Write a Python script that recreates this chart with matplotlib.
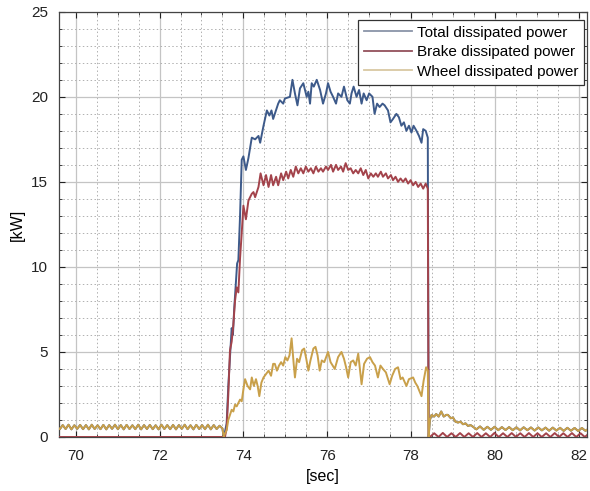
import numpy as np
import matplotlib
matplotlib.use("Agg")
import matplotlib.pyplot as plt
from matplotlib.ticker import MultipleLocator
from matplotlib.lines import Line2D

plt.rcParams['font.family'] = ['Liberation Sans', 'DejaVu Sans']

# ---------------- data ----------------
# idle oscillation before braking (wheel == total, brake == 0)
base_pre = [0.62, 0.46, 0.70, 0.47, 0.72, 0.45, 0.69, 0.48, 0.71, 0.46,
            0.70, 0.45, 0.72, 0.47, 0.69, 0.46, 0.71, 0.45, 0.70, 0.48,
            0.72, 0.46, 0.70, 0.45, 0.71, 0.47, 0.69, 0.46, 0.72, 0.45,
            0.70, 0.47, 0.71, 0.46, 0.69, 0.45, 0.72, 0.47, 0.70, 0.46,
            0.71, 0.45, 0.70, 0.48, 0.72, 0.46, 0.69, 0.45, 0.71, 0.47,
            0.70, 0.46, 0.72, 0.45, 0.70, 0.47, 0.66, 0.50]
pre_start, pre_end = 69.55, 73.50

# braking phase: total dissipated power
total_t = [73.53, 73.56, 73.60, 73.64, 73.68, 73.72, 73.75, 73.78, 73.82, 73.85,
           73.88, 73.92, 73.96, 74.00, 74.06, 74.12, 74.20, 74.28, 74.36, 74.40,
           74.48, 74.56, 74.62, 74.67, 74.71, 74.83, 74.87, 74.95, 74.99, 75.11,
           75.17, 75.23, 75.29, 75.35, 75.43, 75.51, 75.55, 75.59, 75.63, 75.68,
           75.75, 75.83, 75.90, 75.97, 76.02, 76.08, 76.14, 76.21, 76.26, 76.34,
           76.40, 76.48, 76.54, 76.58, 76.63, 76.70, 76.76, 76.82, 76.87, 76.94,
           77.00, 77.08, 77.13, 77.19, 77.25, 77.32, 77.37, 77.45, 77.51, 77.57,
           77.65, 77.71, 77.77, 77.83, 77.89, 77.95, 78.01, 78.06, 78.13, 78.19,
           78.25, 78.29, 78.35, 78.40, 78.42]
total_v = [0.0, 0.3, 0.8, 3.0, 4.7, 6.4, 6.0, 7.5, 9.0, 10.2,
           10.4, 13.0, 16.3, 16.5, 15.7, 16.4, 17.6, 17.5, 17.7, 17.3,
           18.3, 19.2, 18.9, 19.2, 18.7, 19.6, 19.8, 19.6, 19.9, 20.0,
           21.0, 20.2, 19.5, 20.5, 20.8, 20.0, 20.3, 19.6, 20.8, 20.6,
           21.0, 20.4, 19.6, 20.2, 20.8, 20.3, 20.0, 19.6, 20.2, 20.0,
           20.6, 19.8, 19.6, 20.2, 20.6, 20.0, 20.4, 19.6, 20.2, 19.8,
           20.2, 20.0, 19.0, 19.6, 19.4, 19.6, 19.5, 19.2, 18.5, 18.7,
           19.0, 18.8, 18.3, 18.5, 18.0, 18.3, 17.9, 18.3, 18.0, 17.7,
           17.3, 18.1, 18.0, 17.6, 0.0]

# braking phase: brake dissipated power
brake_t = [73.53, 73.56, 73.60, 73.64, 73.68, 73.72, 73.76, 73.80, 73.84, 73.88,
           73.92, 73.96, 74.00, 74.06, 74.12, 74.20, 74.24, 74.28, 74.36, 74.41,
           74.48, 74.54, 74.60, 74.66, 74.71, 74.78, 74.83, 74.90, 74.95, 75.02,
           75.07, 75.13, 75.19, 75.25, 75.31, 75.37, 75.43, 75.49, 75.55, 75.61,
           75.67, 75.73, 75.79, 75.85, 75.90, 75.97, 76.02, 76.09, 76.14, 76.21,
           76.26, 76.33, 76.38, 76.44, 76.50, 76.56, 76.62, 76.68, 76.74, 76.80,
           76.86, 76.92, 76.98, 77.04, 77.10, 77.16, 77.21, 77.28, 77.33, 77.40,
           77.45, 77.52, 77.57, 77.63, 77.69, 77.75, 77.81, 77.87, 77.93, 77.99,
           78.05, 78.11, 78.17, 78.23, 78.29, 78.35, 78.40, 78.42]
brake_v = [0.0, 0.0, 0.5, 2.5, 5.1, 5.6, 6.6, 8.0, 8.8, 8.5,
           10.5, 12.0, 13.6, 12.8, 13.9, 14.3, 14.4, 14.1, 14.7, 15.5,
           14.8, 15.4, 14.7, 15.4, 14.8, 15.3, 14.8, 15.5, 15.1, 15.6,
           15.2, 15.7, 15.3, 15.9, 15.5, 15.8, 15.5, 15.9, 15.6, 15.8,
           15.5, 15.9, 15.6, 15.8, 15.6, 15.9, 15.7, 16.0, 15.6, 16.0,
           15.7, 15.9, 15.6, 16.1, 15.7, 15.8, 15.5, 15.7, 15.5, 15.8,
           15.4, 15.7, 15.2, 15.5, 15.3, 15.5, 15.3, 15.6, 15.3, 15.5,
           15.2, 15.4, 15.1, 15.3, 15.0, 15.2, 15.0, 15.2, 14.9, 15.1,
           14.8, 15.0, 14.7, 14.9, 14.6, 14.9, 14.6, 0.0]

# braking phase: wheel dissipated power
wheel_t = [73.53, 73.56, 73.60, 73.64, 73.68, 73.72, 73.76, 73.80, 73.84, 73.88,
           73.92, 73.96, 74.00, 74.04, 74.10, 74.16, 74.20, 74.25, 74.30, 74.34,
           74.38, 74.43, 74.48, 74.54, 74.60, 74.66, 74.71, 74.75, 74.80, 74.85,
           74.90, 74.95, 75.00, 75.05, 75.10, 75.15, 75.20, 75.23, 75.28, 75.33,
           75.40, 75.45, 75.50, 75.55, 75.60, 75.67, 75.72, 75.77, 75.82, 75.87,
           75.93, 76.02, 76.08, 76.13, 76.18, 76.26, 76.34, 76.40, 76.45, 76.50,
           76.56, 76.62, 76.68, 76.74, 76.82, 76.88, 76.95, 77.02, 77.08, 77.14,
           77.21, 77.27, 77.33, 77.40, 77.49, 77.55, 77.62, 77.69, 77.75, 77.80,
           77.89, 77.95, 78.05, 78.10, 78.15, 78.25, 78.30, 78.36, 78.40, 78.42]
wheel_v = [0.0, 0.2, 0.4, 1.0, 1.3, 1.6, 1.5, 1.9, 1.8, 2.0,
           2.2, 2.1, 2.8, 3.4, 3.0, 2.8, 3.5, 3.0, 3.4, 3.0,
           2.4, 3.2, 3.5, 3.7, 3.9, 3.6, 4.3, 4.3, 3.9, 4.2,
           4.4, 4.2, 4.7, 4.5, 4.8, 5.8, 4.3, 3.5, 4.6, 4.4,
           5.1, 5.2, 4.6, 3.9, 4.5, 5.2, 5.3, 4.8, 3.9, 4.5,
           4.4, 5.0, 4.4, 4.2, 4.0, 4.7, 5.0, 4.6, 4.1, 3.5,
           4.4, 4.5, 4.2, 4.9, 3.1, 4.3, 4.6, 4.7, 4.4, 4.2,
           3.5, 4.2, 4.0, 3.8, 3.1, 3.6, 4.0, 4.1, 3.4, 3.5,
           3.0, 3.4, 3.5, 3.2, 3.0, 2.4, 3.3, 4.1, 3.9, 0.0]

# after braking: wheel == total (decaying ripple), brake small bumps
post_t = [78.45, 78.49, 78.55, 78.60, 78.66, 78.72, 78.78, 78.84, 78.88, 78.95,
          79.00, 79.06, 79.12, 79.18, 79.24, 79.30, 79.36, 79.42, 79.48]
post_v = [1.0, 1.3, 1.2, 1.35, 1.2, 1.5, 1.2, 1.3, 1.3, 1.1,
          1.15, 0.9, 0.85, 0.9, 0.75, 0.8, 0.65, 0.7, 0.6]
tail_v = [0.45, 0.62, 0.42, 0.60, 0.42, 0.60, 0.40, 0.58, 0.41, 0.58,
          0.40, 0.57, 0.39, 0.57, 0.40, 0.56, 0.38, 0.56, 0.39, 0.55,
          0.37, 0.55, 0.38, 0.54, 0.36, 0.54, 0.37, 0.53, 0.35, 0.53,
          0.36, 0.52]
tail_start, tail_end = 79.56, 82.25
brake_post_v = [0.0, 0.22, 0.0, 0.24, 0.0, 0.22, 0.0, 0.23, 0.0, 0.22,
                0.0, 0.23, 0.0, 0.22, 0.0, 0.24, 0.0, 0.22, 0.0, 0.23,
                0.0, 0.22, 0.0, 0.23, 0.0, 0.22, 0.0, 0.22, 0.0, 0.23,
                0.0, 0.22, 0.0, 0.23, 0.0, 0.22, 0.0, 0.22]
brake_post_start, brake_post_end = 78.45, 82.25

labels = ['Total dissipated power', 'Brake dissipated power', 'Wheel dissipated power']
colors = ['#3d5a8a', '#a3434b', '#c9a04a']
legend_colors = ['#8a94a8', '#93505c', '#d9c8a2']

# ---------------- assemble series ----------------
t_pre = np.linspace(pre_start, pre_end, len(base_pre))
t_tail = np.linspace(tail_start, tail_end, len(tail_v))
t_bpost = np.linspace(brake_post_start, brake_post_end, len(brake_post_v))

tot_x = np.concatenate([t_pre, total_t, post_t, t_tail])
tot_y = np.concatenate([base_pre, total_v, post_v, tail_v])
brk_x = np.concatenate([t_pre, brake_t, t_bpost])
brk_y = np.concatenate([np.zeros(len(base_pre)), brake_v, brake_post_v])
whl_x = np.concatenate([t_pre, wheel_t, post_t, t_tail])
whl_y = np.concatenate([base_pre, wheel_v, post_v, tail_v])

# ---------------- plot ----------------
fig = plt.figure(figsize=(5.90, 4.91), dpi=100)
ax = fig.add_axes([0.100, 0.110, 0.895, 0.866])

ax.plot(tot_x, tot_y, color=colors[0], lw=1.4, zorder=3)
ax.plot(brk_x, brk_y, color=colors[1], lw=1.4, zorder=4)
ax.plot(whl_x, whl_y, color=colors[2], lw=1.4, zorder=5)

ax.set_xlim(69.6, 82.2)
ax.set_ylim(0, 25)
ax.xaxis.set_major_locator(MultipleLocator(2))
ax.xaxis.set_minor_locator(MultipleLocator(0.5))
ax.yaxis.set_major_locator(MultipleLocator(5))
ax.yaxis.set_minor_locator(MultipleLocator(1))

ax.grid(which='major', color='#c4c4c4', lw=0.9, ls='-', zorder=0)
ax.grid(which='minor', color='#b0b0b0', lw=0.7, ls=(0, (1.5, 2.5)), zorder=0)
ax.set_axisbelow(True)

ax.tick_params(which='both', direction='in', top=True, right=True,
               labelsize=11, colors='#222222')
ax.tick_params(which='major', length=4)
ax.tick_params(which='minor', length=2)
ax.tick_params(axis='x', which='major', pad=9)
ax.tick_params(axis='y', which='major', pad=8)
for s in ax.spines.values():
    s.set_color('#444444')
    s.set_linewidth(0.9)

ax.set_xlabel('[sec]', fontsize=11.5, labelpad=4)
ax.set_ylabel('[kW]', fontsize=11.5, labelpad=4)

handles = [Line2D([], [], color=c, lw=1.3) for c in legend_colors]
leg = ax.legend(handles, labels, loc='upper right',
                bbox_to_anchor=(584 / 590, 1 - 20 / 491),
                bbox_transform=fig.transFigure, borderaxespad=0,
                fontsize=11, handlelength=3.1, handletextpad=0.33,
                labelspacing=0.36, borderpad=0.38, fancybox=False,
                framealpha=1, edgecolor='#333333')
leg.get_frame().set_linewidth(0.9)

fig.savefig('out.png', dpi=100)
